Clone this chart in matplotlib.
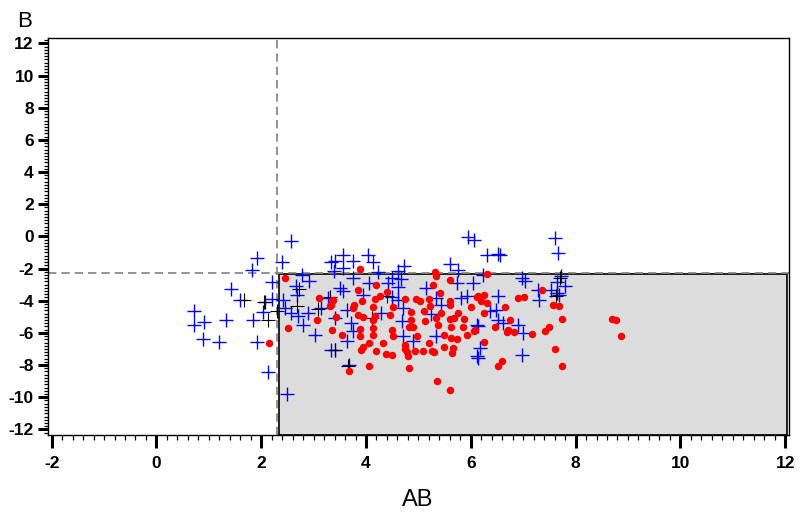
import numpy as np
from matplotlib import pyplot as plt
from matplotlib.patches import Rectangle
from matplotlib.ticker import MultipleLocator

plt.rcParams['font.family'] = ['Liberation Sans', 'DejaVu Sans']
plt.rcParams['axes.unicode_minus'] = False

# cut-offs for the shaded quadrant
x_cut = 2.31
y_cut = -2.3

# blue crosses (AB, B)
blue_x = [2.57, 1.91, 2.39, 1.82, 2.20, 1.43, 1.60, 2.08, 2.21, 2.42, 2.03, 0.71, 0.71, 0.90,
          1.33, 1.85, 0.88, 1.20, 1.92, 2.12, 2.50, 2.77, 2.92, 2.66, 2.69, 2.45, 2.56, 2.70,
          2.89, 2.80, 3.02, 3.15, 3.27, 3.34, 3.34, 5.95, 6.06, 3.56, 4.03, 3.40, 3.76, 4.13,
          4.72, 5.60, 5.76, 3.38, 3.57, 4.23, 4.61, 3.75, 4.50, 4.66, 4.06, 4.42, 4.61, 5.73,
          6.04, 5.15, 3.50, 3.56, 3.94, 4.49, 4.61, 5.34, 5.82, 5.92, 4.70, 3.63, 4.29, 3.40,
          3.71, 4.68, 5.44, 5.25, 6.11, 3.75, 4.70, 5.34, 3.63, 4.90, 3.40, 6.11, 3.67, 7.61,
          7.66, 6.30, 6.51, 6.55, 6.24, 6.97, 7.03, 7.72, 7.64, 7.80, 7.29, 7.54, 7.64, 7.68,
          6.51, 7.30, 6.49, 6.36, 6.52, 6.14, 6.90, 7.00, 6.17, 6.13, 6.98, 6.62]
blue_y = [-0.31, -1.35, -1.60, -2.11, -2.84, -3.28, -3.94, -4.09, -3.88, -3.94, -4.73, -4.66,
          -5.53, -5.35, -5.19, -5.22, -6.39, -6.57, -6.57, -8.46, -9.81, -2.39, -2.76, -3.11,
          -3.63, -4.46, -4.77, -4.98, -4.77, -5.50, -6.12, -4.46, -3.84, -7.05, -1.60, -0.06,
          -0.21, -1.14, -1.14, -1.55, -1.52, -1.62, -1.87, -1.72, -2.08, -2.18, -1.97, -2.24,
          -2.14, -2.59, -2.59, -2.66, -2.90, -2.90, -3.17, -2.90, -2.90, -3.22, -3.22, -3.42,
          -3.63, -3.79, -3.94, -3.84, -3.84, -3.73, -4.46, -4.56, -4.77, -5.08, -5.39, -5.25,
          -4.25, -4.83, -5.53, -5.91, -6.22, -6.22, -6.53, -6.53, -7.05, -7.46, -7.99, -0.11,
          -1.04, -1.18, -1.10, -1.18, -2.39, -2.59, -2.80, -2.49, -2.84, -3.11, -3.32, -3.32,
          -3.53, -3.63, -3.73, -3.94, -4.56, -4.66, -5.19, -5.60, -5.50, -6.01, -6.95, -7.57,
          -7.36, -5.39]

# black crosses
black_x = [2.31, 2.73, 2.68, 3.08, 3.40, 3.65, 4.11, 4.41, 3.31, 7.70, 7.62, 2.12, 1.68, 2.06]
black_y = [-4.64, -3.28, -4.34, -4.52, -7.06, -8.06, -5.08, -3.71, -3.78, -2.60, -3.71, -5.20,
           -3.96, -4.09]

# red dots
red_x = [2.45, 3.11, 2.52, 3.06, 2.15, 3.32, 3.37, 3.36, 3.88, 5.31, 5.34, 5.61, 5.28, 4.20,
         3.85, 5.41, 4.40, 4.26, 4.17, 3.36, 3.34, 3.92, 3.78, 3.75, 4.75, 4.96, 5.04, 5.20,
         5.61, 5.22, 4.13, 4.52, 5.60, 6.11, 6.01, 5.10, 4.85, 5.43, 5.76, 5.68, 5.60, 5.87,
         3.85, 3.94, 4.17, 4.13, 4.45, 3.43, 4.85, 5.12, 5.34, 5.38, 5.62, 5.85, 4.83, 4.90,
         4.13, 3.88, 4.49, 4.13, 3.88, 4.52, 4.97, 3.55, 5.49, 5.63, 5.73, 5.92, 6.06, 4.32,
         4.05, 4.74, 5.20, 3.94, 3.91, 4.74, 5.49, 5.66, 4.20, 4.78, 4.93, 5.09, 5.26, 5.30,
         5.64, 4.39, 4.49, 4.80, 4.05, 3.67, 4.83, 5.36, 5.61, 6.30, 7.35, 6.14, 6.25, 6.20,
         6.30, 6.90, 7.01, 6.65, 7.56, 7.69, 6.25, 7.75, 6.75, 8.69, 8.78, 6.47, 7.49, 7.41,
         6.08, 6.71, 6.69, 6.83, 7.16, 8.86, 6.25, 7.61, 6.59, 6.52, 7.75]
red_y = [-2.59, -3.84, -5.70, -5.22, -6.64, -4.32, -3.94, -5.85, -2.05, -2.22, -2.49, -2.70,
         -3.01, -3.01, -3.36, -3.53, -3.46, -3.73, -3.90, -4.04, -4.29, -4.00, -4.25, -4.46,
         -3.88, -3.88, -4.04, -3.88, -4.04, -4.35, -4.42, -4.42, -4.29, -3.79, -4.40, -4.66,
         -4.73, -4.77, -4.77, -5.08, -5.12, -5.12, -4.88, -5.04, -4.98, -5.19, -4.91, -5.04,
         -5.19, -5.25, -5.08, -5.50, -5.66, -5.66, -5.66, -5.66, -5.70, -5.75, -5.81, -6.16,
         -6.22, -6.22, -6.18, -6.16, -6.16, -6.32, -6.39, -6.12, -5.87, -6.64, -6.64, -6.74,
         -6.64, -6.90, -7.09, -6.99, -6.90, -6.95, -7.15, -7.20, -7.11, -7.15, -7.15, -7.21,
         -7.26, -7.32, -7.40, -7.46, -8.05, -8.40, -8.19, -9.02, -9.58, -2.34, -3.32, -3.73,
         -3.67, -4.00, -4.15, -3.84, -3.79, -4.40, -4.25, -4.35, -4.77, -5.14, -5.19, -5.14,
         -5.19, -5.64, -5.62, -5.91, -5.85, -5.81, -5.95, -5.97, -6.08, -6.22, -6.59, -7.01,
         -7.77, -8.05, -8.08]

x_ticks = np.arange(-2, 13, 2)
y_ticks = np.arange(-12, 13, 2)
x_lim = (-2.07, 12.07)
y_lim = (-12.35, 12.35)

fig = plt.figure(figsize=(8, 5.13), dpi=100)
ax = fig.add_axes([0.06, 0.152, 0.926, 0.7745])

# shaded quadrant
ax.add_patch(Rectangle((x_cut + 0.025, y_lim[0]), x_lim[1] - 0.03 - (x_cut + 0.025),
                       (y_cut - 0.06) - y_lim[0], facecolor='#dcdcdc', edgecolor='black',
                       linewidth=1.2, zorder=1))
ax.axvline(x_cut, color='gray', linestyle='--', linewidth=1.2, dashes=(5, 3), zorder=2)
ax.axhline(y_cut, color='gray', linestyle='--', linewidth=1.2, dashes=(5, 3), zorder=2)

ax.plot(blue_x, blue_y, linestyle='none', marker='+', markersize=10, markeredgewidth=1.0,
        color='#0000ff', zorder=3)
ax.plot(black_x, black_y, linestyle='none', marker='+', markersize=10, markeredgewidth=0.8,
        color='black', zorder=3)
ax.plot(red_x, red_y, linestyle='none', marker='o', markersize=5.4, markeredgewidth=0,
        color='#ff0000', zorder=4)

ax.set_xlim(x_lim)
ax.set_ylim(y_lim)
ax.set_xticks(x_ticks)
ax.set_yticks(y_ticks)
ax.xaxis.set_minor_locator(MultipleLocator(0.2))
ax.yaxis.set_minor_locator(MultipleLocator(0.2))
ax.tick_params(axis='x', which='major', direction='out', length=9, width=2.2, pad=6, labelsize=12.5)
ax.tick_params(axis='y', which='major', direction='out', length=7.2, width=2.2, pad=3, labelsize=12.5)
ax.tick_params(axis='x', which='minor', direction='out', length=3.4, width=0.9)
ax.tick_params(axis='y', which='minor', direction='out', length=2.6, width=0.9)
for lab in ax.get_xticklabels() + ax.get_yticklabels():
    lab.set_fontweight('bold')
for sp in ax.spines.values():
    sp.set_linewidth(1.0)
    sp.set_color('black')

fig.text(0.031, 0.959, 'B', fontsize=16, ha='center', va='center')
fig.text(0.5225, 0.0253, 'AB', fontsize=17, ha='center', va='center')

fig.savefig('out.png', dpi=100)
